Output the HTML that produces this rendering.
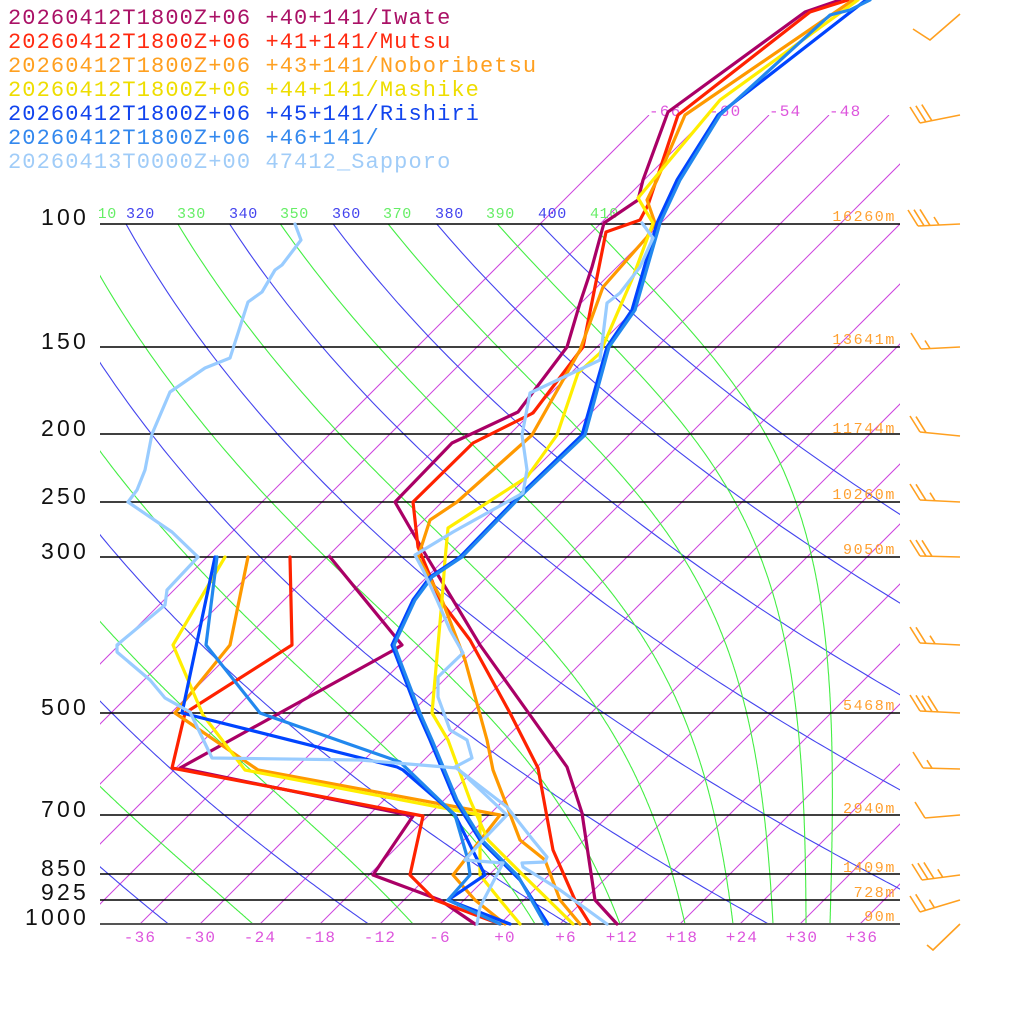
<!DOCTYPE html>
<html><head><meta charset="utf-8">
<style>
html,body{margin:0;padding:0;background:#fff;}
svg{display:block;}
.lg{font-family:"Liberation Mono",monospace;font-size:22px;letter-spacing:1.1px;}
.pl{font-family:"Liberation Sans",sans-serif;font-size:23px;letter-spacing:3.2px;fill:#111;}
.th{font-family:"Liberation Mono",monospace;font-size:15px;letter-spacing:0.6px;}
.hl{font-family:"Liberation Mono",monospace;font-size:15px;fill:#ffa030;letter-spacing:1.6px;}
.tl{font-family:"Liberation Mono",monospace;font-size:16px;fill:#dd55dd;letter-spacing:1.2px;}
</style></head>
<body>
<svg id="s" width="1024" height="1024" viewBox="0 0 1024 1024" xmlns="http://www.w3.org/2000/svg">
<defs>
<clipPath id="cIso"><rect x="100" y="115" width="800" height="809"/></clipPath>
<clipPath id="cMain"><rect x="100" y="224" width="800" height="700"/></clipPath>
<clipPath id="cLab"><rect x="99" y="190" width="900" height="40"/></clipPath>
</defs>
<g id="iso" clip-path="url(#cIso)" stroke="#cc44dd" stroke-width="1" fill="none"></g>
<g id="dry" clip-path="url(#cMain)" stroke="#4444ee" stroke-width="1.1" fill="none"></g>
<g id="moist" clip-path="url(#cMain)" stroke="#44ee44" stroke-width="1.1" fill="none"></g>
<g stroke="#000" stroke-width="1.5">
<line x1="100" y1="224" x2="900" y2="224"/>
<line x1="100" y1="347" x2="900" y2="347"/>
<line x1="100" y1="434" x2="900" y2="434"/>
<line x1="100" y1="502" x2="900" y2="502"/>
<line x1="100" y1="557" x2="900" y2="557"/>
<line x1="100" y1="713" x2="900" y2="713"/>
<line x1="100" y1="815" x2="900" y2="815"/>
<line x1="100" y1="874" x2="900" y2="874"/>
<line x1="100" y1="900" x2="900" y2="900"/>
<line x1="100" y1="924" x2="900" y2="924" stroke="#555" stroke-width="2"/>
</g>
<g class="pl" text-anchor="end">
<text x="89" y="225">100</text><text x="89" y="349">150</text><text x="89" y="436">200</text>
<text x="89" y="504">250</text><text x="89" y="559">300</text><text x="89" y="715">500</text>
<text x="89" y="817">700</text><text x="89" y="876">850</text><text x="89" y="900">925</text>
<text x="89" y="925">1000</text>
</g>
<g class="th" clip-path="url(#cLab)">
<text x="88" y="218" fill="#66ee66">310</text>
<text x="126" y="218" fill="#4444ee">320</text>
<text x="177" y="218" fill="#66ee66">330</text>
<text x="229" y="218" fill="#4444ee">340</text>
<text x="280" y="218" fill="#66ee66">350</text>
<text x="332" y="218" fill="#4444ee">360</text>
<text x="383" y="218" fill="#66ee66">370</text>
<text x="435" y="218" fill="#4444ee">380</text>
<text x="486" y="218" fill="#66ee66">390</text>
<text x="538" y="218" fill="#4444ee">400</text>
<text x="590" y="218" fill="#66ee66">410</text>
</g>
<g class="tl">
<text x="649" y="116">-66</text><text x="709" y="116">-60</text><text x="769" y="116">-54</text><text x="829" y="116">-48</text>
</g>
<g class="tl" text-anchor="middle">
<text x="140" y="942">-36</text><text x="200" y="942">-30</text><text x="260" y="942">-24</text>
<text x="320" y="942">-18</text><text x="380" y="942">-12</text><text x="440" y="942">-6</text>
<text x="505" y="942">+0</text><text x="566" y="942">+6</text><text x="622" y="942">+12</text>
<text x="682" y="942">+18</text><text x="742" y="942">+24</text><text x="802" y="942">+30</text>
<text x="862" y="942">+36</text>
</g>
<g class="hl" text-anchor="end">
<text x="896" y="221">16260m</text><text x="896" y="344">13641m</text><text x="896" y="433">11744m</text>
<text x="896" y="499">10260m</text><text x="896" y="554">9050m</text><text x="896" y="710">5468m</text>
<text x="896" y="813">2940m</text><text x="896" y="872">1409m</text><text x="896" y="897">728m</text>
<text x="896" y="921">90m</text>
</g>
<g id="barbs" stroke="#ffa020" stroke-width="1.6" fill="none"></g>
<g id="data" fill="none" stroke-width="3.2" stroke-linejoin="round" stroke-linecap="round"></g>
<g class="lg">
<text x="8" y="24" fill="#aa1166">20260412T1800Z+06 +40+141/Iwate</text>
<text x="8" y="48" fill="#ff2a10">20260412T1800Z+06 +41+141/Mutsu</text>
<text x="8" y="72" fill="#ffa020">20260412T1800Z+06 +43+141/Noboribetsu</text>
<text x="8" y="96" fill="#eedd00">20260412T1800Z+06 +44+141/Mashike</text>
<text x="8" y="120" fill="#1144ee">20260412T1800Z+06 +45+141/Rishiri</text>
<text x="8" y="144" fill="#3388ee">20260412T1800Z+06 +46+141/</text>
<text x="8" y="168" fill="#a0ccf8">20260413T0000Z+00 47412_Sapporo</text>
</g>
</svg>
<script>
var NS="http://www.w3.org/2000/svg";
function Y(p){return 924-304*Math.log(1000/p);}
function X(T,y){return 500+10*T+(924-y);}
function pl(g,pts,attrs){var e=document.createElementNS(NS,"polyline");e.setAttribute("points",pts.map(function(q){return q[0].toFixed(1)+","+q[1].toFixed(1)}).join(" "));if(attrs)for(var k in attrs)e.setAttribute(k,attrs[k]);document.getElementById(g).appendChild(e);}
for(var T=-66;T<=36;T+=6){pl("iso",[[X(T,924),924],[X(T,115),115]]);}
for(var th=200;th<=400;th+=20){var a=[];for(var p=1000;p>=95;p-=5){var Tk=th*Math.pow(p/1000,0.2857);var y=Y(p);a.push([X(Tk-273.15,y),y]);}pl("dry",a);}
function es(Tc){return 6.112*Math.exp(17.67*Tc/(Tc+243.5));}
function dTdp(T,p){var Tc=T-273.15;var e=es(Tc);var rs=0.622*e/(p-e);var Rd=287.04,cp=1005.7,L=2.501e6;return (Rd*T+L*rs)/p/(cp+L*L*rs*0.622/(Rd*T*T));}
var starts=[-45,-24.7,-8.7,3.5,12,18.5,23.3,27.3,30.6,33];
starts.forEach(function(t0){var T=t0+273.15,p=1000,a=[];var y=Y(p);a.push([X(T-273.15,y),y]);
while(p>100){var dp=-2;var k1=dTdp(T,p);var k2=dTdp(T+k1*dp,p+dp);T+=0.5*(k1+k2)*dp;p+=dp;y=Y(p);a.push([X(T-273.15,y),y]);}
pl("moist",a);});
function barb(xl,yl,xr,yr,n){pl("barbs",[[xr,yr],[xl,yl]]);var dx=(xr-xl),dy=(yr-yl),L=Math.sqrt(dx*dx+dy*dy);var ux=dx/L,uy=dy/L;var full=Math.floor(n),half=n-full>0;for(var i=0;i<full;i++){var bx=xl+ux*6*i,by=yl+uy*6*i;pl("barbs",[[bx,by],[bx-10,by-16]]);}if(half){var bx=xl+ux*6*full+ux*3,by=yl+uy*6*full+uy*3;pl("barbs",[[bx,by],[bx-5,by-8]]);}}
pl("barbs",[[913,29],[930,40],[960,14]]);
barb(920,123,960,115,3);barb(918,226,960,224,3.5);barb(921,349,960,347,1.5);barb(920,432,960,436,2);
barb(920,500,960,502,2.5);barb(920,556,960,557,3);barb(920,643,960,645,2.5);barb(920,711,960,713,4);
barb(923,768,960,769,1.5);barb(925,818,960,815,1);barb(922,880,960,875,3.5);barb(920,912,960,900,2.5);
pl("barbs",[[960,924],[933,950],[927,945]]);
var D=[
["#aa0066",[[840,0],[805,12],[668,112],[643,180],[638,200],[604,223],[592,267],[580,303],[567,347],[518,412],[452,443],[395,502],[417,540],[427,557],[453,600],[480,645],[530,715],[567,767],[582,813],[595,900],[617,924]]],
["#aa0066",[[330,557],[402,645],[392,651],[180,768],[413,816],[373,875],[440,900],[475,924]]],
["#ff2200",[[848,0],[810,12],[678,115],[648,205],[640,220],[606,232],[583,347],[533,413],[473,443],[413,502],[418,547],[440,600],[470,640],[510,713],[538,768],[553,850],[575,900],[590,924]]],
["#ff2200",[[290,557],[292,645],[185,713],[172,768],[423,816],[410,875],[435,900],[500,924]]],
["#ff9900",[[853,0],[685,115],[657,180],[647,200],[655,223],[647,237],[603,287],[580,350],[532,435],[457,502],[430,520],[418,557],[442,600],[465,660],[487,740],[493,770],[520,840],[545,860],[560,900],[580,924]]],
["#ff9900",[[248,557],[230,645],[175,713],[258,770],[500,815],[453,875],[475,900],[505,924]]],
["#ffee00",[[858,0],[720,100],[653,180],[638,198],[653,223],[633,277],[600,353],[578,373],[557,435],[527,477],[448,528],[445,560],[442,600],[432,713],[448,740],[470,800],[488,840],[523,875],[573,924]]],
["#ffee00",[[225,557],[173,645],[203,715],[245,770],[480,815],[480,875],[500,900],[520,924]]],
["#0044ff",[[866,0],[718,115],[677,180],[657,223],[632,310],[607,347],[582,435],[523,492],[460,557],[430,577],[413,600],[392,645],[418,713],[430,740],[455,800],[480,840],[520,880],[548,924]]],
["#0044ff",[[215,557],[182,713],[190,715],[397,767],[403,770],[455,815],[485,875],[448,900],[510,924]]],
["#2288ee",[[870,0],[850,10],[830,15],[720,115],[680,180],[660,223],[635,310],[609,347],[585,435],[525,492],[462,557],[432,577],[415,600],[394,645],[420,713],[432,740],[457,800],[482,840],[518,876],[545,924]]],
["#2288ee",[[217,557],[206,645],[260,713],[400,762],[455,815],[468,860],[470,875],[448,900],[500,924]]],
["#99ccff",[[642,223],[653,238],[640,267],[620,293],[607,303],[600,360],[530,393],[522,435],[527,470],[523,493],[453,532],[415,555],[423,570],[437,600],[450,630],[463,653],[438,677],[438,697],[450,730],[467,740],[472,758],[455,767],[507,807],[533,840],[547,857],[545,862],[522,863],[523,867],[560,890],[607,924]]],
["#99ccff",[[295,224],[301,240],[282,265],[275,270],[262,292],[248,302],[230,358],[205,368],[170,392],[152,434],[145,470],[137,490],[128,502],[172,532],[198,557],[167,590],[165,605],[117,645],[117,652],[150,680],[165,698],[190,712],[212,758],[360,760],[457,768],[507,815],[483,840],[465,860],[503,863],[480,907],[477,924]]]
];
D.forEach(function(d){pl("data",d[1],{stroke:d[0]});});
</script>
</body></html>
